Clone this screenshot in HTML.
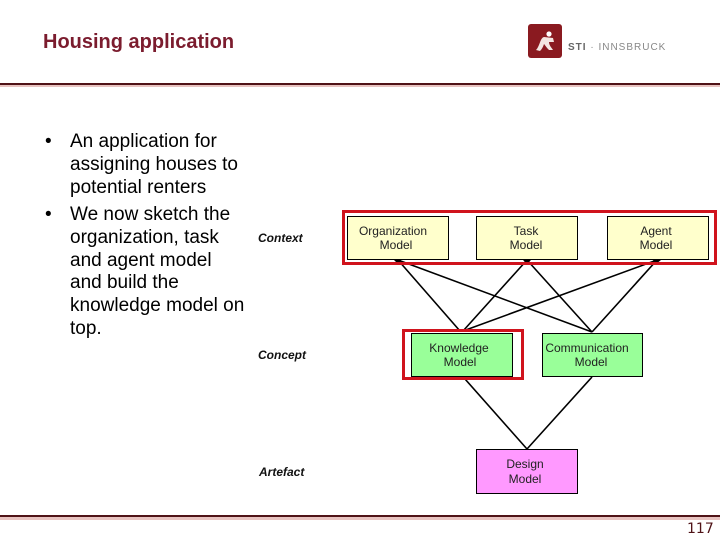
<!DOCTYPE html>
<html><head><meta charset="utf-8"><style>
html,body{margin:0;padding:0;background:#fff}
body{position:relative;width:720px;height:540px;overflow:hidden;font-family:"Liberation Sans",sans-serif}
.a{position:absolute;white-space:nowrap}
.b{position:absolute;left:70px;font-size:19px;line-height:23px;color:#000;white-space:nowrap}
.d{position:absolute;left:45px;font-size:19px;line-height:23px}
.lab{position:absolute;font-size:12px;font-style:italic;font-weight:bold;color:#111;white-space:nowrap}
.m{position:absolute;box-sizing:border-box;border:1px solid #000}
.t{position:absolute;font-size:12px;line-height:14px;color:#222;white-space:nowrap;transform:translateX(-50%)}
.r{position:absolute;box-sizing:border-box;border:3px solid #d0131d}
</style></head><body>
<div class="a" style="left:43px;top:30px;font-size:20px;font-weight:bold;color:#7b1c2e;line-height:24px">Housing application</div>
<div class="a" style="left:0;top:83px;width:720px;height:2px;background:#4f1317"></div>
<div class="a" style="left:0;top:85px;width:720px;height:2px;background:#e8c3c0"></div>
<div class="a" style="left:0;top:515px;width:720px;height:2px;background:#4f1317"></div>
<div class="a" style="left:0;top:517px;width:720px;height:3px;background:#e8c3c0"></div>
<div class="a" style="left:528px;top:24px;width:34px;height:34px;background:#8a1a20;border-radius:3px"></div>
<svg class="a" style="left:528px;top:24px" width="34" height="34"><circle cx="21" cy="10" r="2.6" fill="#fff"/><path d="M8 26 C12 22 12 14 16 13 L25 14 L26 18 L21 18 C21 21 23 23 25 26 L21 26 C18 23 17 21 16 20 C15 23 14 25 12 27 Z" fill="#f3e6e2"/></svg>
<div class="a" style="left:568px;top:42px;font-size:10px;line-height:12px;color:#888;letter-spacing:1px"><b style="color:#666">STI</b> · INNSBRUCK</div>
<div class="d" style="top:130px">•</div>
<div class="d" style="top:203px">•</div>
<div class="b" style="top:130px">An application for<br>assigning houses to<br>potential renters</div>
<div class="b" style="top:204px;line-height:22.8px">We now sketch the<br>organization, task<br>and agent model<br>and build the<br>knowledge model on<br>top.</div>
<div class="lab" style="left:258px;top:231px">Context</div>
<div class="lab" style="left:258px;top:348px">Concept</div>
<div class="lab" style="left:259px;top:465px">Artefact</div>
<svg class="a" style="left:0;top:0" width="720" height="540" fill="none" stroke="#000" stroke-width="1.6">
<path d="M398 260L460 331M398 260L592 332M527 260L463 331M527 260L592 332M657 260L463 331M657 260L592 332M465 379L527 449M592 377L527 449"/>
<path d="M394 260L402 259L398 264ZM523 260L531 260L527 264ZM653 260L661 260L656 264Z" fill="#000" stroke="none"/>
</svg>
<div class="m" style="left:347px;top:216px;width:102px;height:44px;background:#ffffcc"></div>
<div class="m" style="left:476px;top:216px;width:102px;height:44px;background:#ffffcc"></div>
<div class="m" style="left:607px;top:216px;width:102px;height:44px;background:#ffffcc"></div>
<div class="m" style="left:411px;top:333px;width:102px;height:44px;background:#99ff99"></div>
<div class="m" style="left:542px;top:333px;width:101px;height:44px;background:#99ff99"></div>
<div class="m" style="left:476px;top:449px;width:102px;height:45px;background:#ff99ff"></div>
<div class="t" style="left:393px;top:224px">Organization</div><div class="t" style="left:396px;top:238px">Model</div>
<div class="t" style="left:526px;top:224px">Task</div><div class="t" style="left:526px;top:238px">Model</div>
<div class="t" style="left:656px;top:224px">Agent</div><div class="t" style="left:656px;top:238px">Model</div>
<div class="t" style="left:459px;top:341px">Knowledge</div><div class="t" style="left:460px;top:355px">Model</div>
<div class="t" style="left:587px;top:341px">Communication</div><div class="t" style="left:591px;top:355px">Model</div>
<div class="t" style="left:525px;top:457px">Design</div><div class="t" style="left:525px;top:472px">Model</div>
<div class="r" style="left:342px;top:210px;width:375px;height:55px"></div>
<div class="r" style="left:402px;top:329px;width:122px;height:51px"></div>
<div class="a" style="left:687px;top:521px;font-family:'DejaVu Sans',sans-serif;font-size:14px;line-height:17px;color:#4f1317">117</div>
</body></html>
